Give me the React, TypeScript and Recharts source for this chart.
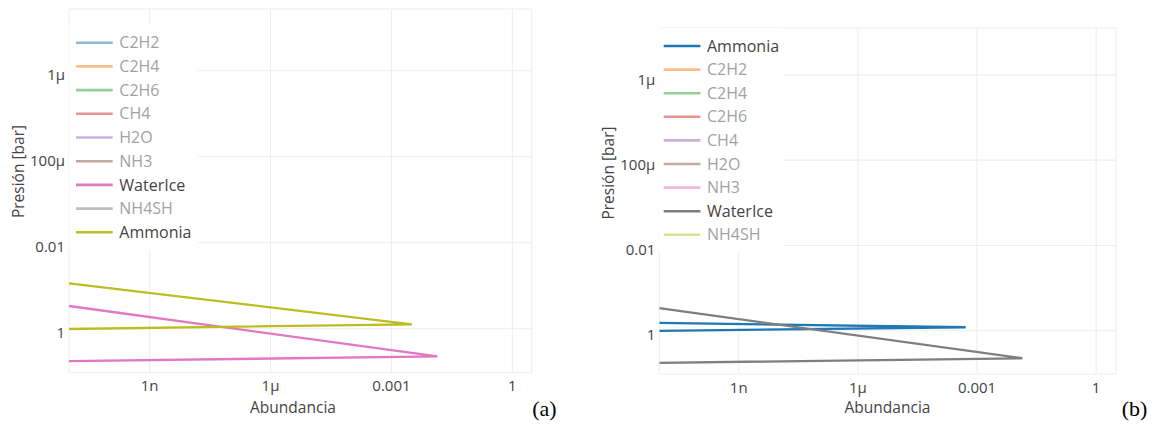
import React from 'react';
import { LineChart, Line, XAxis, YAxis, CartesianGrid, Legend } from 'recharts';

// Axis ticks (log scales)
const abundanceTicks = [1e-9, 1e-6, 1e-3, 1];
const abundanceTickLabels = ['1n', '1μ', '0.001', '1'];
const pressureTicks = [1e-6, 1e-4, 1e-2, 1];
const pressureTickLabels = ['1μ', '100μ', '0.01', '1'];

// Species listed in each legend, with their trace colours
const speciesA = ['C2H2', 'C2H4', 'C2H6', 'CH4', 'H2O', 'NH3', 'WaterIce', 'NH4SH', 'Ammonia'];
const speciesB = ['Ammonia', 'C2H2', 'C2H4', 'C2H6', 'CH4', 'H2O', 'NH3', 'WaterIce', 'NH4SH'];
const palette = ['#1f77b4', '#ff7f0e', '#2ca02c', '#d62728', '#9467bd', '#8c564b', '#e377c2', '#7f7f7f', '#bcbd22'];
const shownSpecies = ['WaterIce', 'Ammonia'];

// Abundance profiles vs pressure [bar]
const waterIceAbundance = [1e-11, 1.38e-2, 1e-11];
const waterIcePressure = [0.296, 4.42, 5.66];
const ammoniaAbundanceA = [1e-11, 3.2e-3, 1e-11];
const ammoniaPressureA = [0.088, 0.79, 1.016];
const ammoniaAbundanceB = [1e-11, 5.2e-4, 1e-11];
const ammoniaPressureB = [0.656, 0.828, 1.01];

const toPoints = (xs: number[], ps: number[]) => xs.map((x, i) => ({ x, p: ps[i] }));

const FONT = '"Open Sans", sans-serif';
const TEXT = '#444';
const TICK_SIZE = 15;

type Panel = {
  tag: string;
  left: number;
  width: number;
  plotLeft: number;
  plotRight: number;
  plotTop: number;
  plotBottom: number;
  xMaxLog: number;
  yMinLog: number;
  yMaxLog: number;
  species: string[];
  series: Record<string, { x: number; p: number }[]>;
  legendBox: { left: number; top: number; width: number; height: number };
  legendFirst: number;
  legendStep: number;
  legendLineX: number;
  yTitle: { x: number; y: number };
  xTitle: { x: number; y: number };
  tagPos: { x: number; y: number };
};

const panels: Panel[] = [
  {
    tag: '(a)',
    left: 0,
    width: 590,
    plotLeft: 69,
    plotRight: 531.7,
    plotTop: 9,
    plotBottom: 372.7,
    xMaxLog: 0.48,
    yMinLog: -7.435,
    yMaxLog: 1.023,
    species: speciesA,
    series: {
      WaterIce: toPoints(waterIceAbundance, waterIcePressure),
      Ammonia: toPoints(ammoniaAbundanceA, ammoniaPressureA),
    },
    legendBox: { left: 69, top: 24, width: 129, height: 226 },
    legendFirst: 18.7,
    legendStep: 23.7,
    legendLineX: 7,
    yTitle: { x: 24, y: 171.5 },
    xTitle: { x: 293, y: 413 },
    tagPos: { x: 544.5, y: 416 },
  },
  {
    tag: '(b)',
    left: 590,
    width: 566,
    plotLeft: 69.3,
    plotRight: 526,
    plotTop: 28,
    plotBottom: 374,
    xMaxLog: 0.5,
    yMinLog: -7.1,
    yMaxLog: 1.015,
    species: speciesB,
    series: {
      Ammonia: toPoints(ammoniaAbundanceB, ammoniaPressureB),
      WaterIce: toPoints(waterIceAbundance, waterIcePressure),
    },
    legendBox: { left: 69.3, top: 28, width: 124, height: 225 },
    legendFirst: 18,
    legendStep: 23.6,
    legendLineX: 4.7,
    yTitle: { x: 24, y: 173 },
    xTitle: { x: 297.5, y: 413 },
    tagPos: { x: 544.5, y: 416 },
  },
];

const labelFor = (ticks: number[], labels: string[], v: number) => {
  const i = ticks.findIndex((t) => Math.abs(Math.log10(t) - Math.log10(v)) < 1e-6);
  return i >= 0 ? labels[i] : '';
};

const XTick = (props: any) => {
  const { x, y, payload } = props;
  return (
    <text x={x} y={y + 18.7} textAnchor="middle" fill={TEXT} fontSize={TICK_SIZE} fontFamily={FONT}>
      {labelFor(abundanceTicks, abundanceTickLabels, payload.value)}
    </text>
  );
};

const YTick = (props: any) => {
  const { x, y, payload } = props;
  return (
    <text x={x - 4} y={y + 9.6} textAnchor="end" fill={TEXT} fontSize={TICK_SIZE} fontFamily={FONT}>
      {labelFor(pressureTicks, pressureTickLabels, payload.value)}
    </text>
  );
};

const LegendBox = ({ panel }: { panel: Panel }) => (
  <svg width={panel.legendBox.width} height={panel.legendBox.height} style={{ display: 'block' }}>
    {panel.species.map((name, i) => {
      const color = palette[i];
      const on = shownSpecies.includes(name);
      const cy = panel.legendFirst + panel.legendStep * i;
      return (
        <g key={name} opacity={on ? 1 : 0.5}>
          <line
            x1={panel.legendLineX}
            x2={panel.legendLineX + 36.7}
            y1={cy}
            y2={cy}
            stroke={color}
            strokeWidth={2.6}
          />
          <text
            x={panel.legendLineX + 43.3}
            y={cy + 5.6}
            fill={TEXT}
            fontSize={16}
            fontFamily={FONT}
          >
            {name}
          </text>
        </g>
      );
    })}
  </svg>
);

const Y_AXIS_W = 60;
const X_AXIS_H = 40;

const PanelChart = ({ panel }: { panel: Panel }) => {
  const margin = {
    top: panel.plotTop,
    left: panel.plotLeft - Y_AXIS_W,
    right: panel.width - panel.plotRight,
    bottom: 428 - panel.plotBottom - X_AXIS_H,
  };
  const order = panel.species.filter((s) => shownSpecies.includes(s));
  return (
    <div style={{ position: 'absolute', left: panel.left, top: 0, width: panel.width, height: 428 }}>
      <LineChart width={panel.width} height={428} margin={margin}>
        <CartesianGrid stroke="#eeeeee" strokeWidth={1.1} />
        <XAxis
          dataKey="x"
          type="number"
          scale="log"
          domain={[1e-11, Math.pow(10, panel.xMaxLog)]}
          allowDataOverflow
          ticks={abundanceTicks}
          tick={<XTick />}
          tickLine={false}
          tickSize={0}
          tickMargin={0}
          axisLine={false}
          height={X_AXIS_H}
          interval={0}
        />
        <YAxis
          dataKey="p"
          type="number"
          scale="log"
          reversed
          domain={[Math.pow(10, panel.yMinLog), Math.pow(10, panel.yMaxLog)]}
          allowDataOverflow
          ticks={pressureTicks}
          tick={<YTick />}
          tickLine={false}
          tickSize={0}
          tickMargin={0}
          axisLine={false}
          width={Y_AXIS_W}
          interval={0}
        />
        {order.map((name) => (
          <Line
            key={name}
            data={panel.series[name]}
            dataKey="p"
            name={name}
            type="linear"
            stroke={palette[panel.species.indexOf(name)]}
            strokeWidth={2.3}
            dot={false}
            activeDot={false}
            isAnimationActive={false}
          />
        ))}
        <Legend
          layout="vertical"
          align="center"
          verticalAlign="middle"
          content={() => <LegendBox panel={panel} />}
          wrapperStyle={{
            left: panel.legendBox.left,
            top: panel.legendBox.top,
            width: panel.legendBox.width,
            height: panel.legendBox.height,
            background: '#fff',
            margin: 0,
          }}
        />
      </LineChart>
      <svg
        width={panel.width}
        height={428}
        style={{ position: 'absolute', left: 0, top: 0, pointerEvents: 'none' }}
      >
        <text
          x={panel.yTitle.x}
          y={panel.yTitle.y}
          transform={`rotate(-90 ${panel.yTitle.x} ${panel.yTitle.y})`}
          textAnchor="middle"
          fill={TEXT}
          fontSize={15.5}
          fontFamily={FONT}
        >
          Presión [bar]
        </text>
        <text
          x={panel.xTitle.x}
          y={panel.xTitle.y}
          textAnchor="middle"
          fill={TEXT}
          fontSize={15.5}
          fontFamily={FONT}
        >
          Abundancia
        </text>
        <text
          x={panel.tagPos.x}
          y={panel.tagPos.y}
          textAnchor="middle"
          fill="#000"
          fontSize={22}
          fontFamily='"Liberation Serif", serif'
        >
          {panel.tag}
        </text>
      </svg>
    </div>
  );
}

export default function App() {
  return (
    <div
      style={{
        position: 'absolute',
        left: 0,
        top: 0,
        width: 1156,
        height: 428,
        background: '#fff',
        overflow: 'hidden',
      }}
    >
      {panels.map((p) => (
        <PanelChart key={p.tag} panel={p} />
      ))}
    </div>
  );
}
